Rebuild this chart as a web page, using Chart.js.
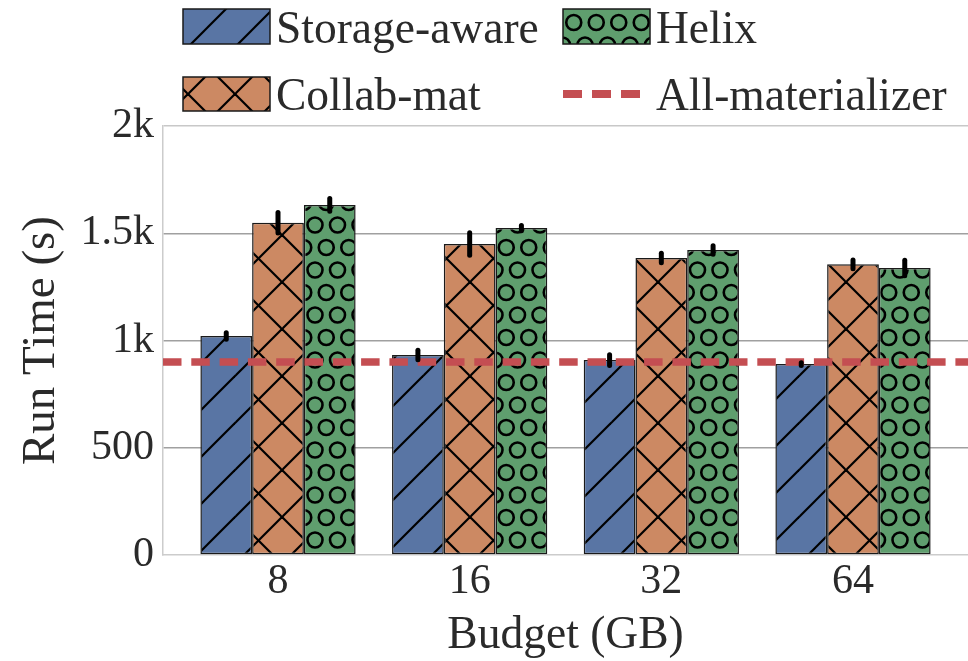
<!DOCTYPE html>
<html>
<head>
<meta charset="utf-8">
<script src="https://cdn.jsdelivr.net/npm/chart.js@4.4.1/dist/chart.umd.min.js"></script>
<style>
  html, body { margin: 0; padding: 0; background: #ffffff; }
  #wrap { width: 968px; height: 661px; }
</style>
</head>
<body>
<div id="wrap"><canvas id="chart" width="968" height="661"></canvas></div>
<script>
// ---- data ----
const categories = ['8', '16', '32', '64'];
const categoryPositions = [0, 1, 2, 3];
const storageAware = [1021, 932, 909, 890];
const storageAwareErr = [15, 22, 25, 6];
const collabMat = [1549, 1450, 1385, 1355];
const collabMatErr = [48, 52, 22, 20];
const helix = [1632, 1524, 1422, 1338];
const helixErr = [30, 12, 20, 36];
const allMaterializer = 900;
const yTickValues = [0, 500, 1000, 1500, 2000];
const yTickLabels = ['0', '500', '1k', '1.5k', '2k'];
const seriesNames = ['Storage-aware', 'Collab-mat', 'Helix', 'All-materializer'];

// ---- style ----
const FONT = "'Liberation Serif', 'Times New Roman', serif";
const TEXT = '#2a2a2a';
const COLORS = { blue: '#5975a4', orange: '#cc8963', green: '#5f9e6e', red: '#c44e52' };

function makePattern(bg, kind) {
  const s = kind === 'circles' ? 45 : 47;
  const c = document.createElement('canvas');
  c.width = s; c.height = s;
  const g = c.getContext('2d');
  g.fillStyle = bg;
  g.fillRect(0, 0, s, s);
  g.strokeStyle = '#000000';
  if (kind === 'slash' || kind === 'cross') {
    g.lineWidth = 2.2;
    for (const k of [0, s, 2 * s]) {
      g.beginPath();
      g.moveTo(-10, k + 10);
      g.lineTo(k + 10, -10);
      g.stroke();
    }
  }
  if (kind === 'cross') {
    for (const k of [-s, 0, s]) {
      g.beginPath();
      g.moveTo(-10, k - 10);
      g.lineTo(s + 10, s + 10 + k);
      g.stroke();
    }
  }
  if (kind === 'circles') {
    g.lineWidth = 2.6;
    const h = s / 2, q = s / 4, r = 7.5;
    const pts = [[0, 0], [h, 0], [s, 0], [0, s], [h, s], [s, s], [q, h], [3 * q, h]];
    for (const [x, y] of pts) {
      g.beginPath();
      g.arc(x, y, r, 0, Math.PI * 2);
      g.stroke();
    }
  }
  return g.createPattern(c, 'repeat');
}

const ctx = document.getElementById('chart').getContext('2d');
const patBlue = makePattern(COLORS.blue, 'slash');
const patOrange = makePattern(COLORS.orange, 'cross');
const patGreen = makePattern(COLORS.green, 'circles');

const errorArrays = [storageAwareErr, collabMatErr, helixErr];

const errorBarPlugin = {
  id: 'errorBars',
  afterDatasetsDraw(chart) {
    const c = chart.ctx;
    const yScale = chart.scales.y;
    c.save();
    c.strokeStyle = '#000000';
    c.lineWidth = 5;
    c.lineCap = 'round';
    for (let d = 0; d < 3; d++) {
      const meta = chart.getDatasetMeta(d);
      const vals = chart.data.datasets[d].data;
      meta.data.forEach((el, i) => {
        const v = vals[i].y, e = errorArrays[d][i];
        c.beginPath();
        c.moveTo(el.x, yScale.getPixelForValue(v - e));
        c.lineTo(el.x, yScale.getPixelForValue(v + e));
        c.stroke();
      });
    }
    c.restore();
  }
};

const legendPlugin = {
  id: 'gridLegend',
  afterDraw(chart) {
    const c = chart.ctx;
    c.save();
    const patches = [
      { x: 183, y: 9, w: 87, h: 35, fill: patBlue, label: seriesNames[0], tx: 276, ty: 43 },
      { x: 563, y: 9, w: 87, h: 35, fill: patGreen, label: seriesNames[2], tx: 656, ty: 43 },
      { x: 183, y: 77, w: 87, h: 34, fill: patOrange, label: seriesNames[1], tx: 276, ty: 110 }
    ];
    c.font = '45.5px ' + FONT;
    c.textBaseline = 'alphabetic';
    c.textAlign = 'left';
    for (const p of patches) {
      c.fillStyle = p.fill;
      c.fillRect(p.x, p.y, p.w, p.h);
      c.strokeStyle = '#1a1a1a';
      c.lineWidth = 1.5;
      c.strokeRect(p.x, p.y, p.w, p.h);
      c.fillStyle = TEXT;
      c.fillText(p.label, p.tx, p.ty);
    }
    c.strokeStyle = COLORS.red;
    c.lineWidth = 8;
    c.setLineDash([19, 10]);
    c.beginPath();
    c.moveTo(563, 94);
    c.lineTo(650, 94);
    c.stroke();
    c.setLineDash([]);
    c.fillStyle = TEXT;
    c.fillText(seriesNames[3], 656, 110);
    c.restore();
  }
};

const barCommon = { borderColor: '#1a1a1a', borderWidth: 1.5, borderSkipped: false };

new Chart(ctx, {
  type: 'bar',
  data: {
    datasets: [
      Object.assign({ label: seriesNames[0], data: categoryPositions.map((x, i) => ({ x, y: storageAware[i] })), backgroundColor: patBlue }, barCommon),
      Object.assign({ label: seriesNames[1], data: categoryPositions.map((x, i) => ({ x, y: collabMat[i] })), backgroundColor: patOrange }, barCommon),
      Object.assign({ label: seriesNames[2], data: categoryPositions.map((x, i) => ({ x, y: helix[i] })), backgroundColor: patGreen }, barCommon),
      {
        type: 'line', label: seriesNames[3], order: -1,
        data: [{ x: -0.6, y: allMaterializer }, { x: 3.6, y: allMaterializer }],
        borderColor: COLORS.red, borderWidth: 7.5, borderDash: [18.5, 9.8],
        pointRadius: 0, fill: false, borderCapStyle: 'butt'
      }
    ]
  },
  options: {
    responsive: false,
    animation: false,
    layout: { padding: { top: 126, left: 0, right: 0, bottom: 0 } },
    plugins: { legend: { display: false }, tooltip: { enabled: false } },
    datasets: { bar: { categoryPercentage: 0.81, barPercentage: 1 } },
    scales: {
      x: {
        type: 'linear', min: -0.6, max: 3.6, offset: false,
        afterBuildTicks: (a) => { a.ticks = categoryPositions.map(v => ({ value: v })); },
        grid: { display: false, drawTicks: false, offset: false },
        border: { display: true, color: '#cccccc', width: 1.5 },
        ticks: {
          callback: (v, i) => categories[i], autoSkip: false, maxRotation: 0,
          font: { family: FONT, size: 42, lineHeight: 1 }, color: TEXT, padding: 6
        },
        title: {
          display: true, text: 'Budget (GB)', color: TEXT,
          font: { family: FONT, size: 45.5, lineHeight: 1 }, padding: { top: 0, bottom: 2 }
        },
        afterFit: (s) => { s.height = 106; }
      },
      y: {
        min: 0, max: 2000,
        afterBuildTicks: (a) => { a.ticks = yTickValues.map(v => ({ value: v })); },
        grid: {
          drawTicks: false, lineWidth: 1.5,
          color: (c) => (c.tick && c.tick.value === 0) ? 'rgba(0,0,0,0)' : (c.tick && c.tick.value === 2000 ? '#c8c8c8' : '#a0a0a0')
        },
        border: { display: true, color: '#cccccc', width: 1.5 },
        ticks: {
          callback: (v, i) => yTickLabels[i],
          font: { family: FONT, size: 42, lineHeight: 1 }, color: TEXT, padding: 9
        },
        title: {
          display: true, text: 'Run Time (s)', color: TEXT,
          font: { family: FONT, size: 47, lineHeight: 1 }, padding: { top: 18, bottom: 0 }
        },
        afterFit: (s) => { s.width = 163; }
      }
    }
  },
  plugins: [errorBarPlugin, legendPlugin]
});
</script>
</body>
</html>
